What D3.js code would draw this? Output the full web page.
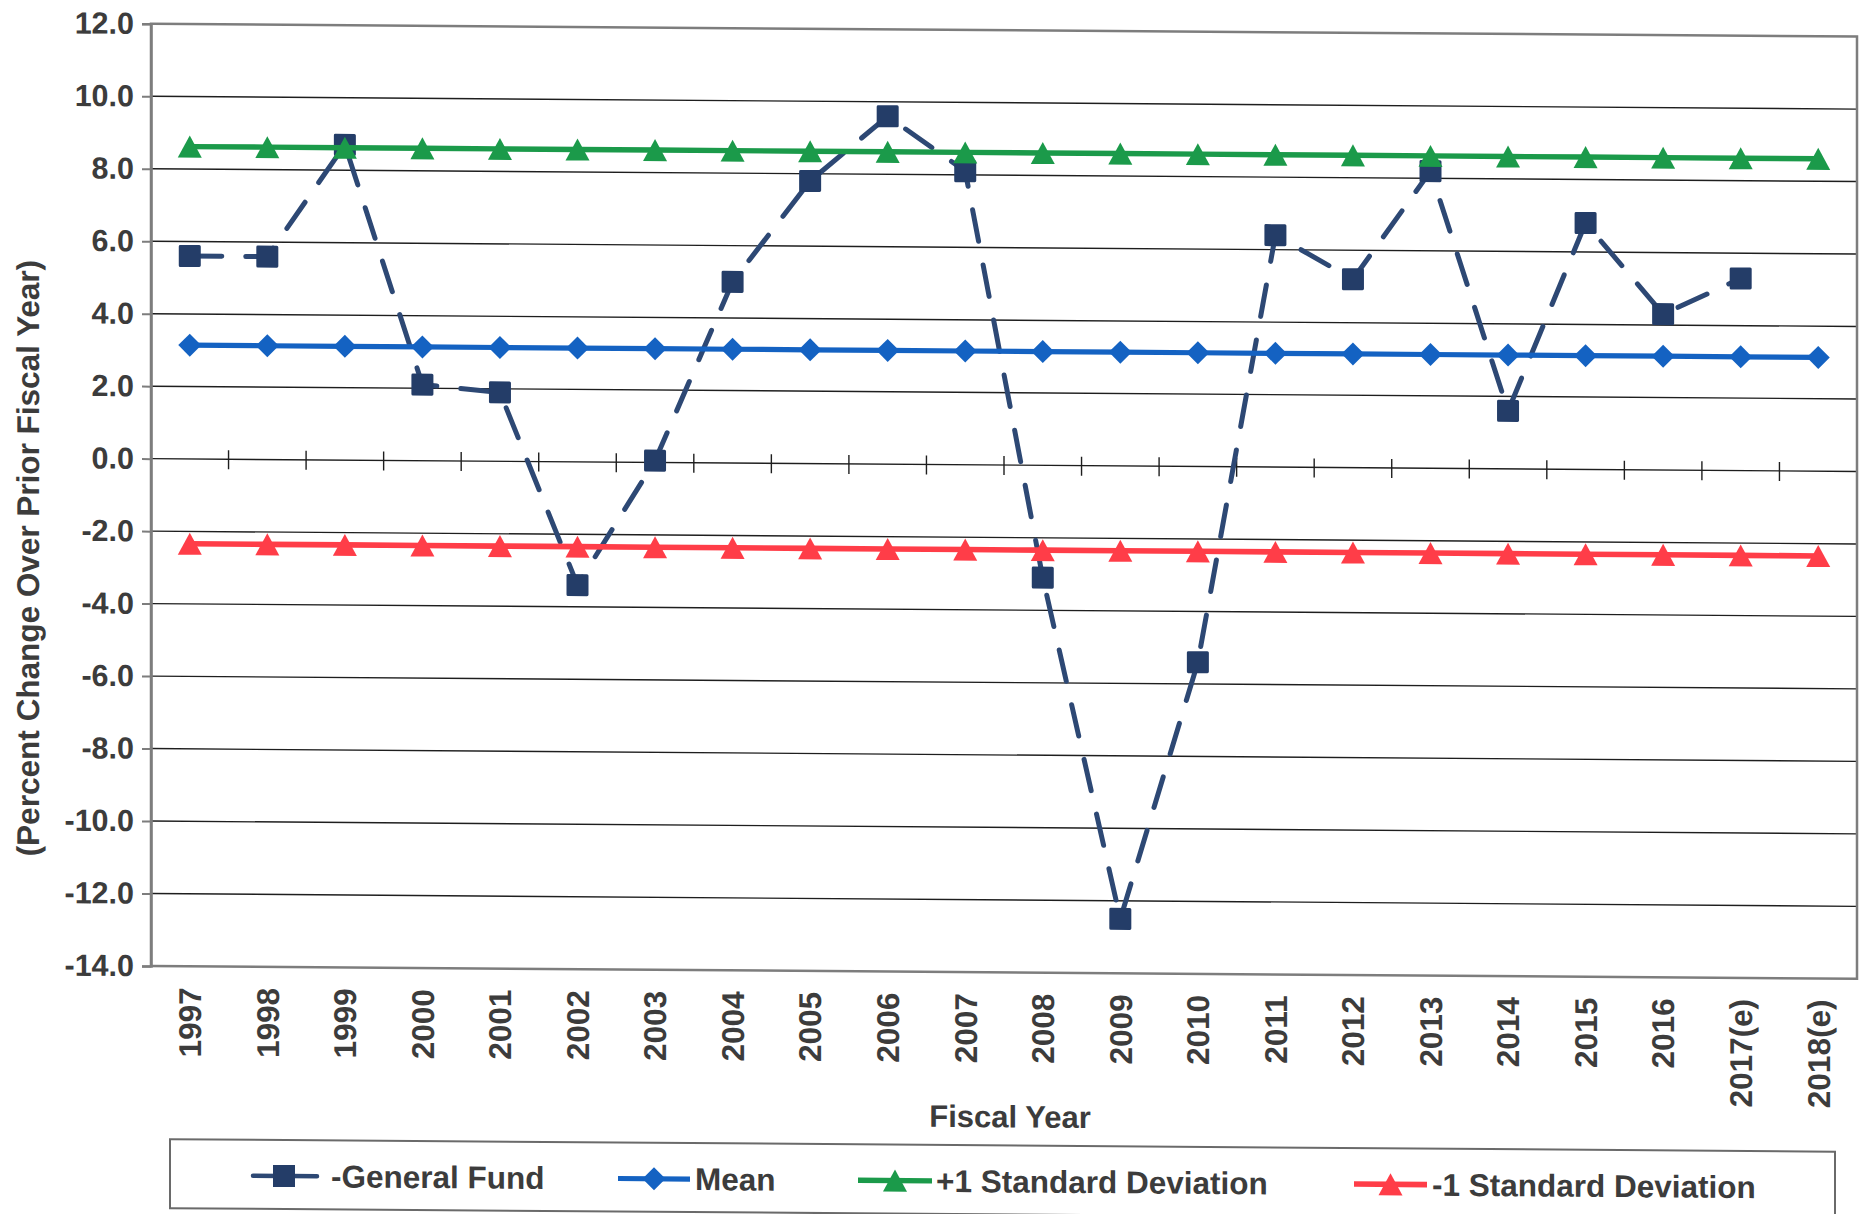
<!DOCTYPE html>
<html>
<head>
<meta charset="utf-8">
<script src="https://cdn.jsdelivr.net/npm/d3@7"></script>
<style>
  html,body{margin:0;padding:0;background:#fff;}
  svg{display:block;}
  text{font-family:"Liberation Sans",Arial,Helvetica,sans-serif;font-weight:bold;}
</style>
</head>
<body>
<svg id="chart" width="1863" height="1214"></svg>
<script>
// ---------------- data ----------------
const categories = ["1997","1998","1999","2000","2001","2002","2003","2004","2005","2006","2007",
  "2008","2009","2010","2011","2012","2013","2014","2015","2016","2017(e)","2018(e)"];
const generalFund = [5.6,5.6,8.7,2.1,1.9,-3.4,0.05,5.0,7.8,9.6,8.1,-3.1,-12.5,-5.4,6.4,5.2,8.2,1.6,6.8,4.3,5.3,null];
const meanValues  = [3.14,3.14,3.14,3.14,3.14,3.14,3.14,3.14,3.14,3.14,3.14,3.14,3.14,3.14,3.14,3.14,3.14,3.14,3.14,3.14,3.14,3.14];
const plusOneSD   = [8.62,8.62,8.62,8.62,8.62,8.62,8.62,8.62,8.62,8.62,8.62,8.62,8.62,8.62,8.62,8.62,8.62,8.62,8.62,8.62,8.62,8.62];
const minusOneSD  = [-2.34,-2.34,-2.34,-2.34,-2.34,-2.34,-2.34,-2.34,-2.34,-2.34,-2.34,-2.34,-2.34,-2.34,-2.34,-2.34,-2.34,-2.34,-2.34,-2.34,-2.34,-2.34];
const yTicks = [12,10,8,6,4,2,0,-2,-4,-6,-8,-10,-12,-14];
const seriesNames = ["General Fund","Mean","+1 Standard Deviation","-1 Standard Deviation"];
const yTitle = "(Percent Change Over Prior Fiscal Year)";
const xTitle = "Fiscal Year";

// ---------------- layout / style ----------------
const X0 = 151, X1 = 1857, YTOP = 23.8, YBOT = 966;
const SKEW = 0.43; // the scanned original is slightly sheared
const TXT = "#3c3c3c";
const NAVY = "#243d68", NAVYLINE = "#2d4874", BLUE = "#1462c2", GREEN = "#1b9a4a", RED = "#ff3d48";
const FRAME = "#7d7d7d", GRID = "#1e1e1e";

const svg = d3.select("#chart");
const k = Math.tan(SKEW * Math.PI / 180);
const root = svg.append("g").attr("transform", `translate(0,${-k * X0}) skewY(${SKEW})`);

const x = d3.scaleBand().domain(categories).range([X0, X1]).padding(0);
const y = d3.scaleLinear().domain([d3.min(yTicks), d3.max(yTicks)]).range([YBOT, YTOP]);
const cx = c => x(c) + x.bandwidth() / 2;

// gridlines
root.append("g").selectAll("line")
  .data(yTicks.filter(t => t !== d3.min(yTicks) && t !== d3.max(yTicks)))
  .join("line")
  .attr("x1", X0).attr("x2", X1)
  .attr("y1", d => y(d)).attr("y2", d => y(d))
  .attr("stroke", GRID).attr("stroke-width", 1.4);

// ticks crossing the zero line at category boundaries
root.append("g").selectAll("line")
  .data(categories.slice(1))
  .join("line")
  .attr("x1", d => x(d)).attr("x2", d => x(d))
  .attr("y1", y(0) - 9).attr("y2", y(0) + 10)
  .attr("stroke", GRID).attr("stroke-width", 1.4);

// plot frame
root.append("rect")
  .attr("x", X0).attr("y", YTOP).attr("width", X1 - X0).attr("height", YBOT - YTOP)
  .attr("fill", "none").attr("stroke", FRAME).attr("stroke-width", 2.5);

// y axis
const yAxis = d3.axisLeft(y).tickValues(yTicks).tickFormat(d => d.toFixed(1)).tickSize(9).tickPadding(8);
const ga = root.append("g").attr("transform", `translate(${X0},0)`).call(yAxis);
ga.select(".domain").attr("stroke", FRAME).attr("stroke-width", 2.5);
ga.selectAll(".tick line").attr("stroke", FRAME).attr("stroke-width", 2);
ga.selectAll(".tick text")
  .attr("fill", TXT)
  .style("font-size", "30.5px")
  .style("font-family", '"Liberation Sans",Arial,sans-serif')
  .style("font-weight", "bold");

// x tick labels (rotated)
root.append("g").selectAll("text")
  .data(categories)
  .join("text")
  .attr("transform", d => `translate(${cx(d)},987) rotate(-90)`)
  .attr("text-anchor", "end")
  .attr("dy", "0.36em")
  .attr("fill", TXT)
  .style("font-size", "31.5px")
  .text(d => d);

// axis titles
root.append("text")
  .attr("transform", `translate(28,559) rotate(-90)`)
  .attr("text-anchor", "middle").attr("dy", "0.36em")
  .attr("fill", TXT).style("font-size", "31.5px")
  .text(yTitle);
root.append("text")
  .attr("x", 1010).attr("y", 1121)
  .attr("text-anchor", "middle")
  .attr("fill", TXT).style("font-size", "31px")
  .text(xTitle);

// ---------------- series ----------------
const rows = categories.map((c, i) => ({c, gf: generalFund[i], m: meanValues[i], p: plusOneSD[i], n: minusOneSD[i]}));

const line = acc => d3.line().defined(d => acc(d) != null).x(d => cx(d.c)).y(d => y(acc(d)));

const diamond = (s) => `M0,${-s}L${s},0L0,${s}L${-s},0Z`;
const triangle = (w, h) => `M0,${-h/2}L${w/2},${h/2}L${-w/2},${h/2}Z`;

// General Fund (dashed)
root.append("path").datum(rows)
  .attr("d", line(d => d.gf))
  .attr("fill", "none").attr("stroke", NAVYLINE).attr("stroke-width", 5)
  .attr("stroke-dasharray", "32,24").attr("stroke-linecap", "round");
root.append("g").selectAll("rect")
  .data(rows.filter(d => d.gf != null))
  .join("rect")
  .attr("x", d => cx(d.c) - 11).attr("y", d => y(d.gf) - 11)
  .attr("width", 22).attr("height", 22).attr("rx", 1.5)
  .attr("fill", NAVY);

// Mean
root.append("path").datum(rows)
  .attr("d", line(d => d.m))
  .attr("fill", "none").attr("stroke", BLUE).attr("stroke-width", 5.2);
root.append("g").selectAll("path")
  .data(rows)
  .join("path")
  .attr("transform", d => `translate(${cx(d.c)},${y(d.m)})`)
  .attr("d", diamond(11.5))
  .attr("fill", BLUE);

// +1 SD
root.append("path").datum(rows)
  .attr("d", line(d => d.p))
  .attr("fill", "none").attr("stroke", GREEN).attr("stroke-width", 5.4);
root.append("g").selectAll("path")
  .data(rows)
  .join("path")
  .attr("transform", d => `translate(${cx(d.c)},${y(d.p)})`)
  .attr("d", triangle(24, 22))
  .attr("fill", GREEN);

// -1 SD
root.append("path").datum(rows)
  .attr("d", line(d => d.n))
  .attr("fill", "none").attr("stroke", RED).attr("stroke-width", 5.6);
root.append("g").selectAll("path")
  .data(rows)
  .join("path")
  .attr("transform", d => `translate(${cx(d.c)},${y(d.n)})`)
  .attr("d", triangle(24, 22))
  .attr("fill", RED);

// ---------------- legend ----------------
const lg = root.append("g");
lg.append("rect")
  .attr("x", 170).attr("y", 1139).attr("width", 1665).attr("height", 69)
  .attr("fill", "#fff").attr("stroke", "#6a6a6a").attr("stroke-width", 2);

const LY = 1175;
const legendItems = [
  {name: seriesNames[0], x1: 253, x2: 325, text: 331},
  {name: seriesNames[1], x1: 618, x2: 690, text: 695},
  {name: seriesNames[2], x1: 858, x2: 932, text: 936},
  {name: seriesNames[3], x1: 1354, x2: 1427, text: 1432}
];
// General Fund symbol
lg.append("line").attr("x1", legendItems[0].x1).attr("x2", legendItems[0].x2)
  .attr("y1", LY).attr("y2", LY)
  .attr("stroke", NAVYLINE).attr("stroke-width", 4.5)
  .attr("stroke-dasharray", "26,12").attr("stroke-linecap", "round");
lg.append("rect").attr("x", (legendItems[0].x1 + legendItems[0].x2) / 2 - 10 - 6)
  .attr("y", LY - 11).attr("width", 22).attr("height", 22).attr("fill", NAVY);
// Mean symbol
lg.append("line").attr("x1", legendItems[1].x1).attr("x2", legendItems[1].x2)
  .attr("y1", LY).attr("y2", LY).attr("stroke", BLUE).attr("stroke-width", 5.2);
lg.append("path").attr("transform", `translate(${(legendItems[1].x1 + legendItems[1].x2) / 2},${LY})`)
  .attr("d", diamond(11.5)).attr("fill", BLUE);
// +1 SD symbol
lg.append("line").attr("x1", legendItems[2].x1).attr("x2", legendItems[2].x2)
  .attr("y1", LY).attr("y2", LY).attr("stroke", GREEN).attr("stroke-width", 5.4);
lg.append("path").attr("transform", `translate(${(legendItems[2].x1 + legendItems[2].x2) / 2},${LY})`)
  .attr("d", triangle(24, 22)).attr("fill", GREEN);
// -1 SD symbol
lg.append("line").attr("x1", legendItems[3].x1).attr("x2", legendItems[3].x2)
  .attr("y1", LY).attr("y2", LY).attr("stroke", RED).attr("stroke-width", 5.6);
lg.append("path").attr("transform", `translate(${(legendItems[3].x1 + legendItems[3].x2) / 2},${LY})`)
  .attr("d", triangle(24, 22)).attr("fill", RED);

lg.selectAll("text.lt")
  .data(legendItems)
  .join("text")
  .attr("class", "lt")
  .attr("x", d => d.text).attr("y", LY + 11)
  .attr("fill", TXT).style("font-size", "31.5px")
  .text((d, i) => (i === 0 ? "-" : "") + d.name);
</script>
</body>
</html>
